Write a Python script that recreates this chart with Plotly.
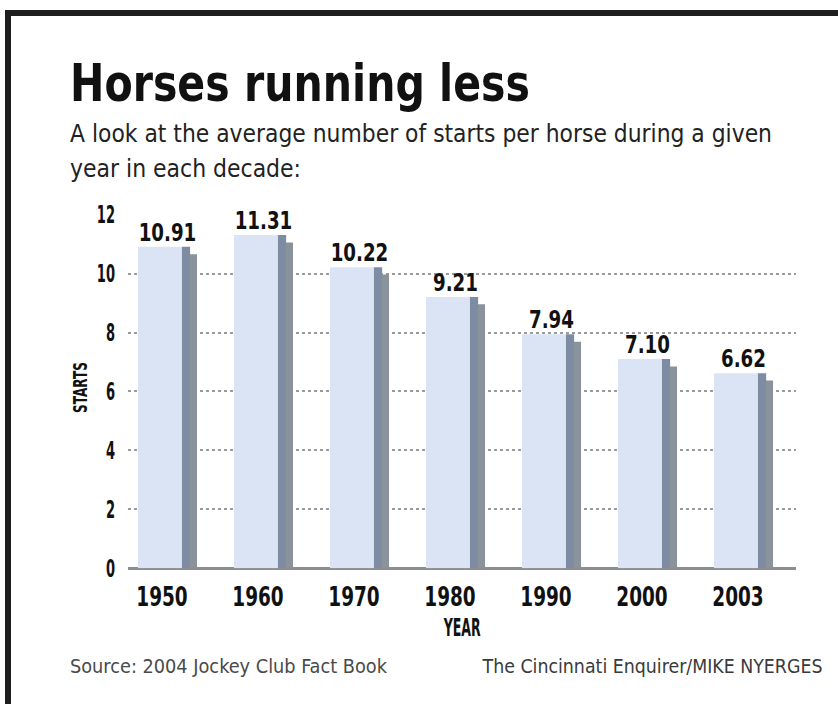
import json
import plotly.graph_objects as go

years = ["1950", "1960", "1970", "1980", "1990", "2000", "2003"]
starts = [10.91, 11.31, 10.22, 9.21, 7.94, 7.10, 6.62]
value_labels = ["10.91", "11.31", "10.22", "9.21", "7.94", "7.10", "6.62"]
y_ticks = [0, 2, 4, 6, 8, 10, 12]

title = "Horses running less"
subtitle1 = "A look at the average number of starts per horse during a given"
subtitle2 = "year in each decade:"
source = "Source: 2004 Jockey Club Fact Book"
credit = "The Cincinnati Enquirer/MIKE NYERGES"
x_title = "YEAR"
y_title = "STARTS"

W, H = 838, 704
COND = "DejaVu Sans Condensed, Liberation Sans Narrow, Arial Narrow, sans-serif"

# the photographed SVG is drawn slightly squashed vertically: compensate
SQ, OFF = 0.9602, 14.0


def px(x):
    return x / W


def py(y):
    """target picture y (px from top) -> paper coordinate"""
    return 1 - ((y - OFF) / SQ) / H


idx = list(range(len(years)))

fig = go.Figure()
# front face
fig.add_trace(go.Bar(x=idx, y=starts, width=0.458, offset=-0.25,
                     marker=dict(color="#dae4f4", line=dict(width=0)),
                     hoverinfo="skip", showlegend=False))
# side faces (3D effect)
fig.add_trace(go.Bar(x=idx, y=starts, width=0.085, offset=0.208,
                     marker=dict(color="#7d8ca2", line=dict(width=0)),
                     hoverinfo="skip", showlegend=False))
fig.add_trace(go.Bar(x=idx, y=[v - 0.25 for v in starts], width=0.075, offset=0.29,
                     marker=dict(color="#8a929c", line=dict(width=0)),
                     hoverinfo="skip", showlegend=False))
# value labels
fig.add_trace(go.Scatter(x=[i + 0.057 for i in idx], y=starts, mode="text",
                         text=value_labels, textposition="top center",
                         textfont=dict(family=COND, size=25, color="#111", weight="bold"),
                         cliponaxis=False, hoverinfo="skip", showlegend=False))

fig.update_layout(
    width=W, height=H,
    margin=dict(l=0, r=0, t=0, b=0),
    paper_bgcolor="white", plot_bgcolor="white",
    barmode="overlay",
    showlegend=False,
    xaxis=dict(domain=[px(128), px(796)], range=[-0.354, 6.604],
               tickvals=idx, ticktext=years, ticks="", showgrid=False,
               zeroline=False, showline=False, fixedrange=True, ticklabelstandoff=10,
               tickfont=dict(family=COND, size=27, color="#111", weight="bold")),
    yaxis=dict(domain=[py(569), py(215)], range=[0, 12], tickvals=y_ticks,
               ticks="", showgrid=True, gridcolor="#9a9a9a", griddash="dot", gridwidth=1.5,
               zeroline=True, zerolinecolor="#8d8d8d", zerolinewidth=3,
               showline=False, fixedrange=True, ticklabelstandoff=12,
               tickfont=dict(family=COND, size=25, color="#111", weight="bold")),
)

ann = [
    dict(text=title, x=px(68), y=py(83), xanchor="left", align="left", yanchor="middle",
         font=dict(family=COND, size=52, color="#111", weight="bold")),
    dict(text=subtitle1, x=px(68), y=py(134), xanchor="left", align="left", yanchor="middle",
         font=dict(family=COND, size=25, color="#222")),
    dict(text=subtitle2, x=px(68), y=py(169), xanchor="left", align="left", yanchor="middle",
         font=dict(family=COND, size=25, color="#222")),
    dict(text=y_title, x=px(80), y=py(388), xanchor="center", yanchor="middle", textangle=-90,
         font=dict(family=COND, size=20, color="#111", weight="bold")),
    dict(text=x_title, x=px(461), y=py(628), xanchor="center", yanchor="middle",
         font=dict(family=COND, size=25, color="#111", weight="bold")),
    dict(text=source, x=px(68), y=py(667), xanchor="left", align="left", yanchor="middle",
         font=dict(family=COND, size=20, color="#4a4a4a")),
    dict(text=credit, x=px(825), y=py(667), xanchor="right", align="right", yanchor="middle",
         font=dict(family=COND, size=20, color="#3a3a3a")),
]
for a in ann:
    fig.add_annotation(xref="paper", yref="paper", showarrow=False, **a)

# condensed look: target text widths (px) and condensing factors
targets = {title: 460, subtitle1: 702, subtitle2: 231, source: 317, credit: 340,
           x_title: 37, y_title: 51}
factors = {".xtick text": 0.76, ".ytick text": 0.58, ".textpoint text": 0.81}

post = """
(function(){
  var st = document.createElement('style');
  st.textContent = 'html,body{margin:0;padding:0;overflow:hidden;width:838px;height:704px;}' +
                   '.plotly-graph-div{position:absolute;top:0;left:0;}';
  document.head.appendChild(st);
  var gd = document.getElementById('{plot_id}');
  var targets = %s;
  var factors = %s;
  gd.querySelectorAll('text.annotation-text').forEach(function(t){
    var w = targets[t.textContent];
    if (w) { t.setAttribute('lengthAdjust','spacingAndGlyphs'); t.setAttribute('textLength', w); }
  });
  Object.keys(factors).forEach(function(sel){
    gd.querySelectorAll(sel).forEach(function(t){
      var L = t.getComputedTextLength();
      t.setAttribute('lengthAdjust','spacingAndGlyphs');
      t.setAttribute('textLength', L * factors[sel]);
    });
  });
  var fr = document.createElement('div');
  fr.style.cssText = 'position:fixed;left:5px;top:10px;right:0;bottom:0;z-index:5;' +
    'pointer-events:none;border-top:6px solid #1f1f1f;border-left:6px solid #1f1f1f;';
  document.body.appendChild(fr);
})();
""" % (json.dumps(targets), json.dumps(factors))

fig.write_html("out.html", post_script=post, config={"displayModeBar": False})
